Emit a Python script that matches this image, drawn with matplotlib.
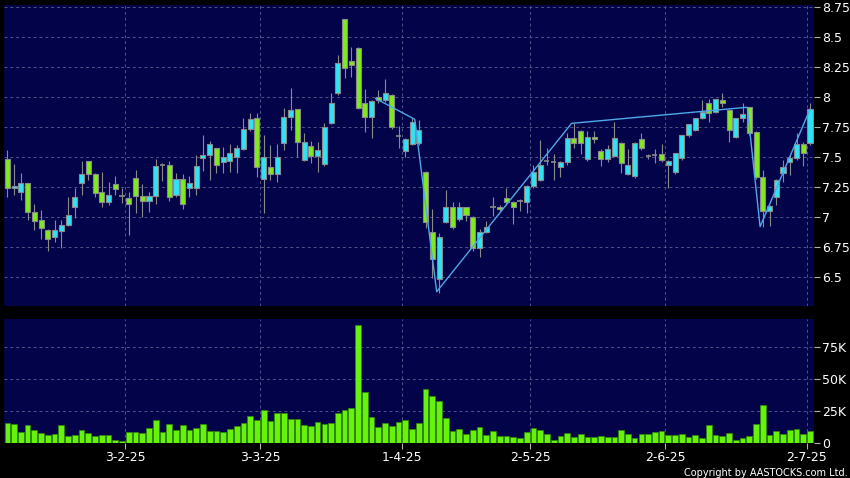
import matplotlib
matplotlib.use("Agg")
import matplotlib.pyplot as plt
import numpy as np

# daily OHLC, 120 trading days (index 0 = first bar)
opens = [7.483, 7.242, 7.214, 7.283, 7.042, 6.978, 6.894, 6.839, 6.889, 6.936,
         7.089, 7.289, 7.467, 7.361, 7.214, 7.131, 7.278, 7.181, 7.158, 7.325,
         7.181, 7.133, 7.181, 7.433, 7.433, 7.186, 7.317, 7.242, 7.242, 7.492,
         7.517, 7.575, 7.458, 7.467, 7.506, 7.567, 7.733, 7.825, 7.317, 7.417,
         7.361, 7.617, 7.833, 7.900, 7.478, 7.597, 7.511, 7.444, 7.783, 8.033,
         8.650, 8.306, 8.414, 7.956, 7.833, 8.000, 7.978, 8.017, 7.678, 7.556,
         7.611, 7.622, 7.381, 6.881, 6.483, 6.964, 7.083, 6.983, 7.083, 7.006,
         6.742, 6.881, 7.089, 7.089, 7.158, 7.131, 7.136, 7.131, 7.261, 7.311,
         7.467, 7.464, 7.417, 7.464, 7.658, 7.719, 7.483, 7.667, 7.556, 7.483,
         7.511, 7.617, 7.361, 7.344, 7.650, 7.514, 7.517, 7.525, 7.436, 7.375,
         7.492, 7.686, 7.728, 7.825, 7.950, 7.881, 7.978, 7.894, 7.667, 7.825,
         7.917, 7.714, 7.333, 7.056, 7.167, 7.372, 7.464, 7.492, 7.611, 7.617]
highs = [7.561, 7.444, 7.367, 7.290, 7.111, 7.061, 6.900, 6.978, 6.978, 7.172,
         7.242, 7.469, 7.470, 7.370, 7.378, 7.297, 7.347, 7.242, 7.214, 7.394,
         7.278, 7.214, 7.483, 7.456, 7.467, 7.367, 7.361, 7.344, 7.519, 7.686,
         7.636, 7.580, 7.583, 7.611, 7.603, 7.825, 7.872, 7.872, 7.686, 7.600,
         7.610, 7.908, 8.075, 7.900, 7.700, 7.640, 7.630, 7.783, 8.033, 8.353,
         8.650, 8.420, 8.420, 8.067, 7.980, 8.060, 8.150, 8.030, 7.761, 7.660,
         7.825, 7.810, 7.390, 7.067, 6.870, 7.228, 7.130, 7.130, 7.090, 7.010,
         6.900, 6.972, 7.167, 7.100, 7.242, 7.140, 7.150, 7.270, 7.436, 7.644,
         7.575, 7.530, 7.470, 7.700, 7.783, 7.730, 7.716, 7.716, 7.570, 7.603,
         7.797, 7.630, 7.567, 7.630, 7.706, 7.530, 7.567, 7.611, 7.480, 7.540,
         7.690, 7.780, 7.830, 7.978, 7.983, 7.990, 8.033, 7.900, 7.830, 7.950,
         7.920, 7.720, 7.394, 7.100, 7.320, 7.478, 7.530, 7.700, 7.631, 7.950]
lows = [7.167, 7.186, 7.144, 6.978, 6.894, 6.817, 6.722, 6.797, 6.742, 6.930,
        6.992, 7.186, 7.311, 7.172, 7.089, 7.103, 7.186, 7.117, 6.853, 7.033,
        7.006, 7.042, 7.111, 7.300, 7.136, 7.172, 7.069, 7.167, 7.186, 7.389,
        7.311, 7.367, 7.367, 7.381, 7.367, 7.560, 7.720, 7.333, 7.033, 7.310,
        7.297, 7.560, 7.728, 7.506, 7.470, 7.450, 7.381, 7.430, 7.780, 8.020,
        8.158, 8.167, 7.900, 7.714, 7.658, 7.950, 7.960, 7.740, 7.575, 7.506,
        7.600, 7.600, 6.908, 6.492, 6.372, 6.950, 6.900, 6.970, 6.970, 6.720,
        6.672, 6.870, 7.011, 7.050, 7.100, 6.944, 7.050, 7.033, 7.242, 7.300,
        7.440, 7.310, 7.339, 7.440, 7.575, 7.530, 7.470, 7.617, 7.428, 7.464,
        7.500, 7.367, 7.350, 7.330, 7.560, 7.490, 7.456, 7.460, 7.242, 7.360,
        7.480, 7.670, 7.720, 7.820, 7.797, 7.870, 7.922, 7.631, 7.660, 7.797,
        7.690, 7.320, 6.922, 6.928, 7.103, 7.297, 7.353, 7.480, 7.428, 7.600]
closes = [7.242, 7.264, 7.283, 7.042, 6.972, 6.911, 6.822, 6.894, 6.933, 7.019,
          7.172, 7.361, 7.361, 7.206, 7.131, 7.186, 7.233, 7.181, 7.108, 7.181,
          7.133, 7.181, 7.428, 7.433, 7.167, 7.317, 7.111, 7.283, 7.428, 7.519,
          7.611, 7.436, 7.506, 7.533, 7.575, 7.733, 7.817, 7.417, 7.506, 7.361,
          7.506, 7.833, 7.894, 7.631, 7.631, 7.511, 7.561, 7.756, 7.950, 8.289,
          8.242, 8.267, 7.908, 7.833, 7.969, 7.978, 8.033, 7.750, 7.678, 7.650,
          7.797, 7.728, 6.964, 6.650, 6.833, 7.083, 6.922, 7.083, 7.019, 6.742,
          6.881, 6.922, 7.089, 7.067, 7.131, 7.083, 7.136, 7.261, 7.381, 7.436,
          7.467, 7.464, 7.464, 7.658, 7.622, 7.622, 7.667, 7.650, 7.483, 7.567,
          7.658, 7.456, 7.436, 7.617, 7.575, 7.514, 7.517, 7.478, 7.472, 7.533,
          7.683, 7.775, 7.825, 7.875, 7.867, 7.983, 7.950, 7.728, 7.825, 7.858,
          7.700, 7.333, 7.056, 7.094, 7.311, 7.422, 7.492, 7.611, 7.533, 7.900]

# volume in thousands
volume = [16.1, 15.1, 8.9, 14.1, 10.9, 8.3, 6.5, 7.8, 14.6, 6.0,
          7.0, 10.9, 8.3, 6.0, 7.0, 6.8, 3.1, 1.6, 8.6, 8.9,
          8.3, 12.2, 18.5, 8.6, 15.4, 10.9, 14.3, 10.4, 12.0, 15.1,
          9.4, 9.6, 8.9, 11.5, 13.5, 15.9, 21.1, 18.0, 26.3, 17.2,
          23.7, 24.2, 19.3, 19.0, 14.6, 13.3, 16.9, 15.6, 16.1, 24.2,
          25.8, 27.6, 92.2, 40.1, 20.6, 12.8, 16.1, 13.5, 16.8, 18.5,
          11.5, 15.9, 42.2, 37.0, 33.3, 19.8, 9.6, 11.7, 7.3, 10.9,
          12.5, 7.0, 9.4, 5.7, 5.7, 4.7, 4.4, 8.9, 12.0, 10.2,
          7.6, 3.1, 5.7, 8.3, 4.9, 7.8, 5.2, 5.2, 5.5, 4.7,
          5.2, 10.7, 7.6, 3.9, 7.3, 7.3, 9.1, 9.6, 6.5, 6.5,
          7.8, 4.9, 6.5, 4.4, 14.3, 7.0, 6.0, 8.3, 3.1, 3.9,
          6.0, 15.6, 29.7, 7.0, 9.4, 7.3, 10.2, 11.7, 7.3, 9.6]

# turning-point line (bar index, price)
zz_idx = [54.6, 60.4, 63.65, 83.65, 109.7, 111.6, 119.0]
zz_price = [7.99, 7.817, 6.38, 7.783, 7.917, 6.922, 7.90]

# first bar of each month and its label
month_start = [18, 38, 59, 78, 98, 119]
month_labels = ["3-2-25", "3-3-25", "1-4-25", "2-5-25", "2-6-25", "2-7-25"]

price_ticks = [6.5, 6.75, 7, 7.25, 7.5, 7.75, 8, 8.25, 8.5, 8.75]
price_labels = ["6.5", "6.75", "7", "7.25", "7.5", "7.75", "8", "8.25", "8.5", "8.75"]
vol_ticks = [0, 25, 50, 75]
vol_labels = ["0", "25K", "50K", "75K"]

BG = "#03034a"
UP = "#2ee4f4"
DOWN = "#80ea1c"
EDGE = "#8a8a8a"
GRID = "#4f5488"

fig = plt.figure(figsize=(8.5, 4.78), dpi=100, facecolor="black")
ax = fig.add_axes([0.0047, 0.3598, 0.953, 0.6297], facecolor=BG)
axv = fig.add_axes([0.0047, 0.0722, 0.953, 0.2598], facecolor=BG, sharex=ax)

o = np.array(opens)
h = np.array(highs)
l = np.array(lows)
c = np.array(closes)
x = np.arange(len(o))

# wicks
ax.vlines(x, l, h, color=EDGE, lw=0.8, zorder=2)

up = c > o
down = c < o
flat = c == o
ax.bar(x[up], (c - o)[up], bottom=o[up], width=0.75, color=UP,
       edgecolor=EDGE, linewidth=0.8, zorder=3)
ax.bar(x[down], (o - c)[down], bottom=c[down], width=0.75, color=DOWN,
       edgecolor=EDGE, linewidth=0.8, zorder=3)
ax.hlines(c[flat], x[flat] - 0.375, x[flat] + 0.375, color=EDGE, lw=1.2, zorder=3)

ax.plot(zz_idx, zz_price, color="#4fa8e8", lw=1.0, zorder=4)

axv.bar(x, volume, width=0.85, color="#66f20a", edgecolor="#2f8a00",
        linewidth=0.5, zorder=3)

ax.set_xlim(-0.5, 119.6)
ax.set_ylim(6.261, 8.769)
axv.set_ylim(0, 97)

grid_x = [m - 0.5 for m in month_start]
for a in (ax, axv):
    for s in a.spines.values():
        s.set_visible(False)
    for gx in grid_x:
        a.axvline(gx, color=GRID, lw=0.7, ls=(0, (3, 3)), zorder=1)
    a.yaxis.tick_right()
    a.tick_params(axis="y", which="both", direction="out", length=4, width=0.8,
                  color="#b0b0b0", labelcolor="white", labelsize=9, pad=2,
                  left=False, right=True)

ax.set_yticks(price_ticks)
ax.set_yticklabels(price_labels)
for t in price_ticks:
    ax.axhline(t, color=GRID, lw=0.7, ls=(0, (3, 3)), zorder=1)
ax.tick_params(axis="x", bottom=False, labelbottom=False)

axv.set_yticks(vol_ticks)
axv.set_yticklabels(vol_labels)
for t in vol_ticks[1:]:
    axv.axhline(t, color=GRID, lw=0.7, ls=(0, (3, 3)), zorder=1)
axv.set_xticks(grid_x)
axv.set_xticklabels(month_labels)
axv.tick_params(axis="x", direction="out", length=4, width=0.8, color="#b0b0b0",
                labelcolor="white", labelsize=9, pad=1.5)

fig.text(0.997, 0.0, "Copyright by AASTOCKS.com Ltd.", color="white",
         fontsize=7, ha="right", va="bottom")

fig.savefig("out.png", dpi=100, facecolor="black")
